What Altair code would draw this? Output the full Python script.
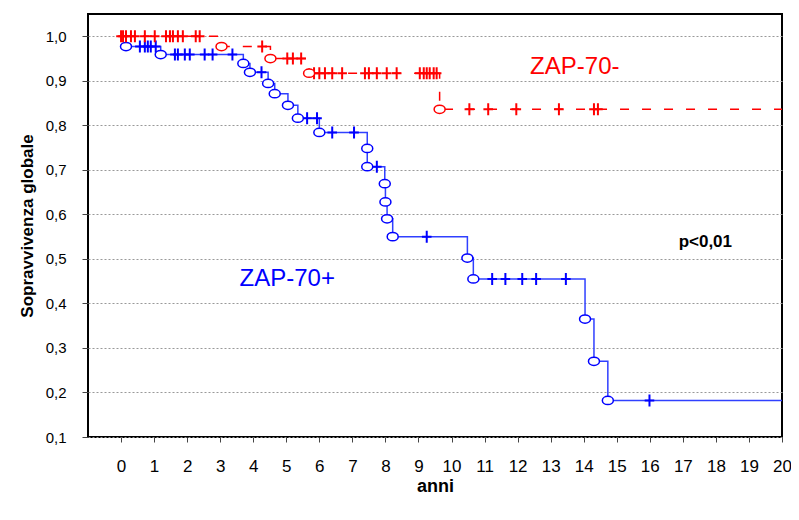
import altair as alt
import pandas as pd

# ---- data (Kaplan-Meier curves) ----
blue_event_t = [0.15, 1.2, 3.7, 3.9, 4.45, 4.65, 5.05, 5.35, 6.0, 7.45, 7.45,
                7.98, 8.0, 8.05, 8.22, 10.48, 10.66, 14.04, 14.31, 14.73]
blue_event_s = [0.977, 0.959, 0.939, 0.919, 0.894, 0.871, 0.845, 0.816, 0.784,
                0.748, 0.707, 0.669, 0.628, 0.590, 0.550, 0.502, 0.455, 0.365,
                0.270, 0.182]
blue_cens_t = [0.57, 0.72, 0.81, 0.9, 1.05, 1.63, 1.72, 1.93, 2.08, 2.53, 2.77,
               3.37, 4.25, 5.63, 5.93, 6.39, 7.05, 7.74, 9.25, 11.23, 11.63,
               12.14, 12.56, 13.46, 15.99]

red_event_t = [3.04, 4.52, 5.69, 9.64]
red_event_s = [0.977, 0.950, 0.917, 0.836]
red_cens_t = [0.0, 0.06, 0.15, 0.30, 0.42, 0.72, 1.02, 1.36, 1.48, 1.57, 1.72,
              1.87, 2.26, 2.38, 4.27, 5.03, 5.2, 5.45, 5.84, 6.0, 6.17, 6.39,
              6.69, 7.38, 7.5, 7.74, 8.04, 8.34, 9.04, 9.16, 9.25, 9.34, 9.46,
              9.55, 10.54, 11.11, 11.96, 13.25, 14.31, 14.43]

start_t = 0.0
end_t = 20.0
x_ticks = list(range(0, 21))
y_ticks = [0.1, 0.2, 0.3, 0.4, 0.5, 0.6, 0.7, 0.8, 0.9, 1.0]

labels_text = ["ZAP-70-", "ZAP-70+", "p<0,01"]
labels_t = [13.73, 5.03, 17.68]
labels_s = [0.932, 0.455, 0.538]


def surv_at(t, ev_t, ev_s):
    s = 1.0
    for et, es in zip(ev_t, ev_s):
        if et <= t:
            s = es
    return s


def curve(ev_t, ev_s):
    ts = [start_t] + ev_t + [end_t]
    ss = [1.0] + ev_s + [ev_s[-1]]
    return pd.DataFrame({"t": ts, "s": ss, "o": list(range(len(ts)))})


blue_curve = curve(blue_event_t, blue_event_s)
red_curve = curve(red_event_t, red_event_s)
blue_ev = pd.DataFrame({"t": blue_event_t, "s": blue_event_s})
red_ev = pd.DataFrame({"t": red_event_t, "s": red_event_s})
blue_c = pd.DataFrame({"t": blue_cens_t,
                       "s": [surv_at(t, blue_event_t, blue_event_s) for t in blue_cens_t]})
red_c = pd.DataFrame({"t": red_cens_t,
                      "s": [surv_at(t, red_event_t, red_event_s) for t in red_cens_t]})

FONT = "Liberation Sans"
BLUE = "#0000ff"
BLUE_LINE = "#3040ff"
RED = "#ff0000"

X = alt.X("t:Q",
          scale=alt.Scale(domain=[-1, 20], nice=False, zero=False),
          axis=alt.Axis(values=x_ticks, title="anni", grid=False, tickSize=5,
                        labelPadding=16, labelFontSize=17, titleFontSize=18,
                        titleFontWeight="bold", titlePadding=3, labelFlush=False))
Y = alt.Y("s:Q",
          scale=alt.Scale(domain=[0.1, 1.05], nice=False, zero=False),
          axis=alt.Axis(values=y_ticks, title="Sopravvivenza globale",
                        labelExpr="replace(format(datum.value, '.1f'), '.', ',')",
                        grid=True, gridDash=[2, 2], gridColor="#999999",
                        tickSize=6, labelPadding=16, labelFontSize=15,
                        titleFontSize=17, titleFontWeight="bold",
                        titlePadding=9))

cross = "M-0.8,0L0.8,0M0,-1L0,1"
ellipse = "M-1,0A1,0.75,0,1,1,1,0A1,0.75,0,1,1,-1,0Z"

blue_line = alt.Chart(blue_curve).mark_line(
    interpolate="step-after", color=BLUE_LINE, strokeWidth=1.5
).encode(x=X, y=Y, order="o:Q")
red_line = alt.Chart(red_curve).mark_line(
    interpolate="step-after", color=RED, strokeWidth=1.5, strokeDash=[9, 13]
).encode(x=X, y=Y, order="o:Q")

blue_circ = alt.Chart(blue_ev).mark_point(
    shape=ellipse, size=121, filled=True, fill="white", stroke=BLUE,
    strokeWidth=1.5, opacity=1
).encode(x=X, y=Y)
red_circ = alt.Chart(red_ev).mark_point(
    shape=ellipse, size=121, filled=True, fill="white", stroke=RED,
    strokeWidth=1.5, opacity=1
).encode(x=X, y=Y)

blue_cross = alt.Chart(blue_c).mark_point(
    shape=cross, size=144, filled=False, stroke=BLUE, strokeWidth=2, opacity=1
).encode(x=X, y=Y)
red_cross = alt.Chart(red_c).mark_point(
    shape=cross, size=144, filled=False, stroke=RED, strokeWidth=2, opacity=1
).encode(x=X, y=Y)

lab_df = pd.DataFrame({"t": labels_t, "s": labels_s, "label": labels_text})
txt_red = alt.Chart(lab_df.iloc[[0]]).mark_text(
    font=FONT, fontSize=24, color=RED
).encode(x=X, y=Y, text="label:N")
txt_blue = alt.Chart(lab_df.iloc[[1]]).mark_text(
    font=FONT, fontSize=24, color=BLUE
).encode(x=X, y=Y, text="label:N")
txt_p = alt.Chart(lab_df.iloc[[2]]).mark_text(
    font=FONT, fontSize=17, fontWeight="bold", color="black"
).encode(x=X, y=Y, text="label:N")

chart = alt.layer(
    blue_line, red_line, blue_cross, blue_circ, red_cross, red_circ,
    txt_red, txt_blue, txt_p
).properties(
    width=694, height=423,
    autosize=alt.AutoSizeParams(type="none"),
    padding={"left": 80, "top": 6, "right": 9, "bottom": 70},
).configure_view(
    stroke="black", strokeWidth=2
).configure_axis(
    domain=False, labelFont=FONT, titleFont=FONT, labelColor="black",
    titleColor="black", tickColor="#444444"
)

chart.save("out.html", embed_options={"renderer": "svg", "actions": False})
